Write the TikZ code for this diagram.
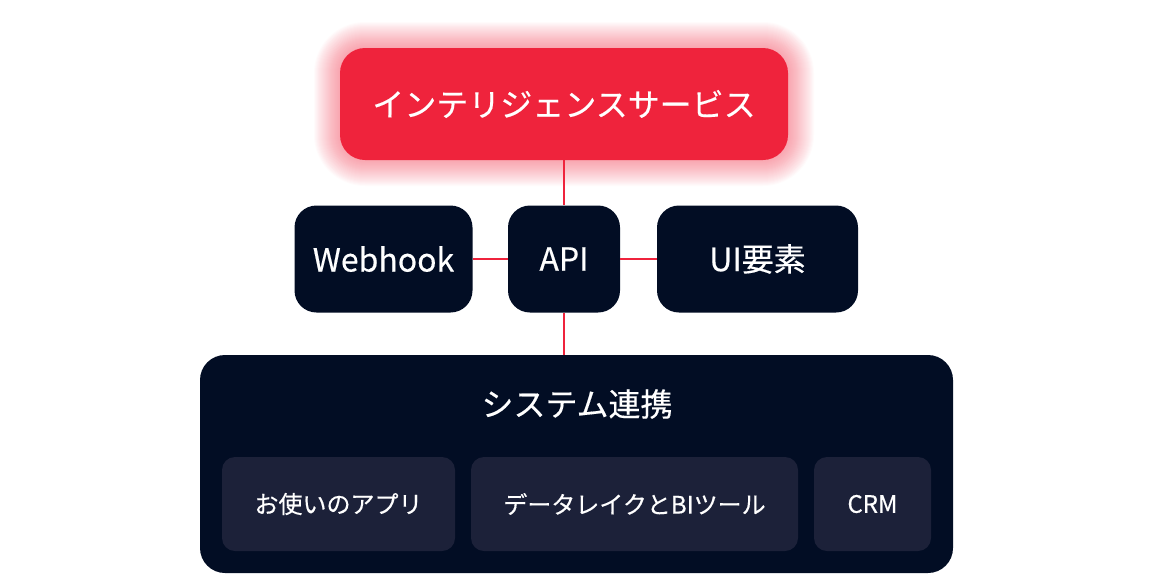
\documentclass[tikz,border=0pt]{standalone}
\usepackage{fontspec}
\setmainfont{Noto Sans CJK JP}[FakeBold=0.4]
\usetikzlibrary{positioning}
\definecolor{accentred}{HTML}{EF233C}
\definecolor{navy}{HTML}{020D24}
\definecolor{innernavy}{HTML}{1C2139}

\tikzset{
  box/.style={rectangle, rounded corners=22pt, fill=navy, text=white, minimum height=107pt, font=\fontsize{32}{34}\selectfont},
  subbox/.style={rectangle, rounded corners=13pt, fill=innernavy, text=white, minimum height=94pt, font=\fontsize{24}{26}\selectfont},
  link/.style={draw=accentred, line width=2pt}
}

\begin{document}
\begin{tikzpicture}[x=1pt, y=-1pt]
    \useasboundingbox (0,0) rectangle (1153,576);
    % glow behind the service box
    \foreach \g in {1,...,26} {
    \fill[accentred, opacity=0.018, rounded corners={25pt+\g pt}] ({340-\g*1.0}, {48-\g*1.0}) rectangle ({788+\g*1.0}, {160+\g*1.0});
    }
    \node[rectangle, rounded corners=25pt, fill=accentred, text=white, minimum width=448pt, minimum height=112pt, font=\fontsize{32}{34}\selectfont] (service) at (564,104) {インテリジェンスサービス};

    \node[box, minimum width=112pt] (api) at (564,259) {API};
    \node[box, minimum width=178pt] (webhook) at (383.5,259) {Webhook};
    \node[box, minimum width=201pt] (ui) at (757.5,259) {UI要素};

    \node[rectangle, rounded corners=25pt, fill=navy, minimum width=753pt, minimum height=218pt] (system) at (576.5,464) {};
    \node[text=white, font=\fontsize{32}{34}\selectfont] (systitle) at (577,404) {システム連携};
    \node[subbox, minimum width=233pt] (app) at (338.5,504) {お使いのアプリ};
    \node[subbox, minimum width=327pt] (data) at (634.5,504) {データレイクとBIツール};
    \node[subbox, minimum width=117pt] (crm) at (872.5,504) {CRM};

    \draw[link] (service.south) -- (api.north);
    \draw[link] (webhook.east) -- (api.west);
    \draw[link] (api.east) -- (ui.west);
    \draw[link] (api.south) -- (api.south |- system.north);
\end{tikzpicture}
\end{document}
